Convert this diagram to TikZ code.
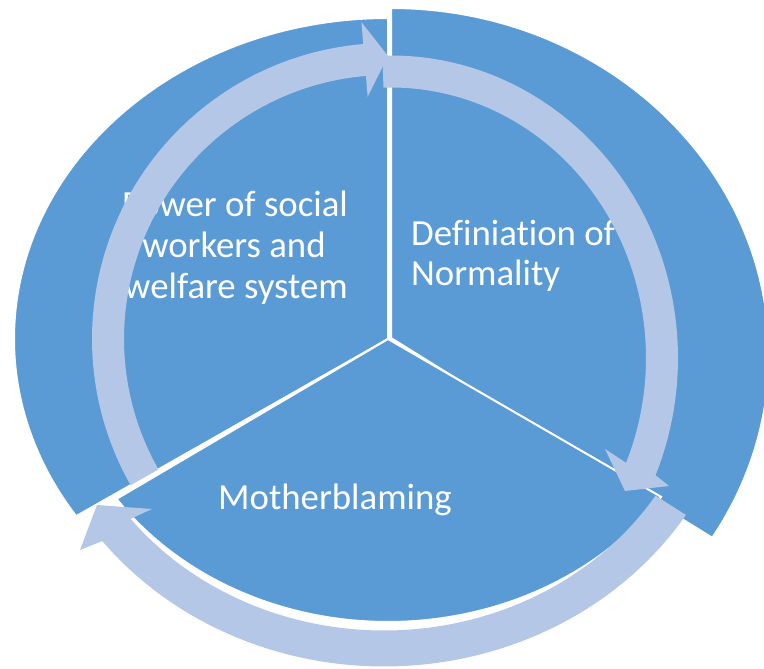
\documentclass[tikz,border=0pt]{standalone}
\usepackage{fontspec}
\setmainfont{Carlito}[Ligatures=NoCommon]
\definecolor{secblue}{HTML}{5B9BD5}
\definecolor{arrblue}{HTML}{B4C7E7}
\begin{document}
\begin{tikzpicture}[x=1pt,y=-1pt,
  sector/.style={fill=secblue, draw=white, line width=2pt, line join=miter},
  arrowband/.style={fill=arrblue},
  lbl/.style={text=white, font=\fontsize{36.8}{41.5}\selectfont, inner sep=0pt, anchor=base}]
\useasboundingbox (0,0) rectangle (764,669);

% right sector (exploded)
\draw[sector] (391,338) -- (391,8) arc[start angle=270, end angle=391.8, x radius=378, y radius=347] -- cycle;
% left sector
\draw[sector] (388,339) -- (388,18) arc[start angle=270, end angle=146.5, x radius=374, y radius=321] -- cycle;
% bottom sector
\begin{scope}[shift={(388,339)}]
\draw[sector] (0,0) -- (33.9:329 and 283) arc[start angle=33.9, end angle=145.6, x radius=329, y radius=283] -- cycle;
\end{scope}

% labels
\node[lbl] (p1) at (235,216) {Power of social};
\node[lbl] (p2) at (234,257) {workers and};
\node[lbl] (p3) at (236,298) {welfare system};
\node[lbl, anchor=base west] (d1) at (411,245) {Definiation of};
\node[lbl, anchor=base west] (d2) at (411,285) {Normality};
\node[lbl] (m1) at (335,509) {Motherblaming};

% arrow 1 (left, up to top)
\begin{scope}[shift={(388,339)}]
\fill[arrowband] (150.4:296) arc[start angle=150.4, end angle=265.2, radius=296]
  -- (265.2:318) -- (270:283) -- (265.2:243) -- (265.2:264)
  arc[start angle=265.2, end angle=150.4, radius=264] -- cycle;
\end{scope}

% arrow 2 (right side, down)
\begin{scope}[shift={(391,358)}]
\fill[arrowband] (268.3:287 and 302.5) arc[start angle=268.3, end angle=382.8, x radius=287, y radius=302.5]
  -- (278,128) -- (234,133) -- (214,91) -- (382.8:255 and 270.5)
  arc[start angle=382.8, end angle=268.3, x radius=255, y radius=270.5] -- cycle;
\end{scope}

% arrow 3 (bottom, to lower left)
\begin{scope}[shift={(384,339)}]
\fill[arrowband] (32.5:358 and 327.5) arc[start angle=32.5, end angle=141.9, x radius=358, y radius=327.5]
  -- (-304,211) -- (-287,166) -- (-232,170) -- (141.9:322 and 291.5)
  arc[start angle=141.9, end angle=32.5, x radius=322, y radius=291.5] -- cycle;
\end{scope}
\end{tikzpicture}
\end{document}
